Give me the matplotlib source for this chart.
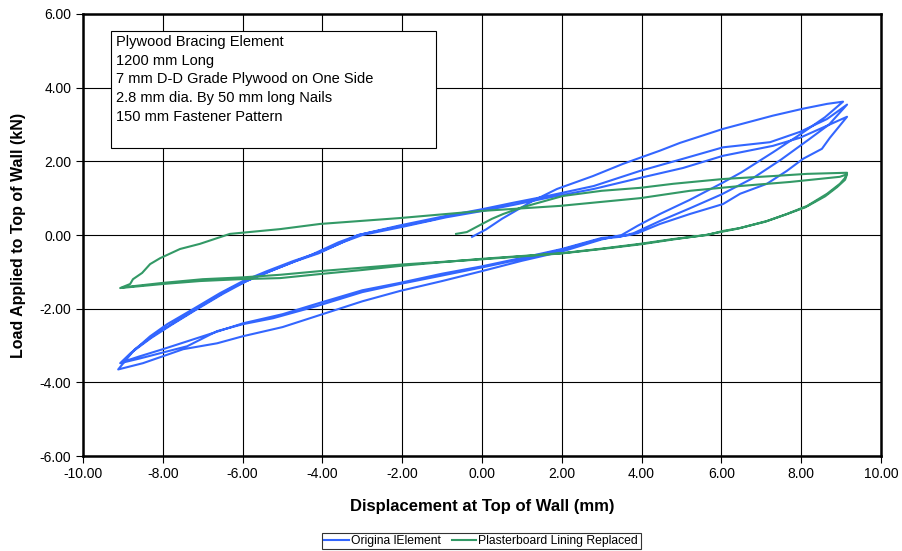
import matplotlib.pyplot as plt
from matplotlib.patches import Rectangle

plt.rcParams['font.family'] = ['Liberation Sans', 'DejaVu Sans']
plt.rcParams['axes.unicode_minus'] = False

# Original element - cyclic load path (displacement mm, load kN)
orig_x = [-0.25, 0.1, 0.5, 1.28, 1.88, 2.78, 3.53, 4.46, 4.96, 6.04, 7.29, 8.05, 8.65, 9.05,
          8.6, 8.0, 7.3, 6.5, 6.0, 5.2, 4.46, 3.9, 3.5,
          3.0, 2.0, 1.0, 0.0, -1.0, -2.06, -3.0, -4.14, -5.0, -6.0, -6.64, -7.49, -8.5, -9.12,
          -8.75, -8.32, -7.89, -7.24, -6.57, -5.99, -5.39, -4.74, -4.14, -3.6, -3.1, -2.06, -0.9,
          0.0, 0.8, 1.6, 2.8, 3.96, 5.04, 6.04, 7.22, 7.97, 8.65, 9.15,
          8.7, 8.2, 7.5, 6.8, 6.0, 5.2, 4.46, 3.8, 3.45,
          3.0, 2.0, 1.0, 0.0, -1.0, -2.06, -3.0, -4.14, -5.24, -5.99, -6.64, -7.39, -8.07, -8.57, -9.07,
          -8.8, -8.3, -7.8, -7.2, -6.5, -5.9, -5.3, -4.7, -4.1, -3.5, -3.0, -2.0, -0.9,
          0.0, 0.8, 1.6, 2.8, 3.96, 5.04, 6.04, 7.29, 7.97, 8.65, 9.15,
          8.97, 8.72, 8.52, 8.05, 7.64, 7.14, 6.47, 6.04, 5.21, 4.46, 3.9, 3.6,
          3.0, 2.0, 1.0, 0.0, -1.0, -2.06, -3.0, -4.06, -5.0, -6.0, -7.0, -8.0, -8.6, -9.02,
          -8.7, -8.2, -7.6, -7.0, -6.3, -5.7, -5.0, -4.3, -3.6, -3.1, -2.0, -1.2]
orig_y = [-0.05, 0.15, 0.44, 0.93, 1.25, 1.6, 1.93, 2.29, 2.5, 2.88, 3.24, 3.43, 3.56, 3.62,
          3.2, 2.75, 2.25, 1.7, 1.4, 0.95, 0.57, 0.25, 0.0,
          -0.12, -0.45, -0.7, -0.98, -1.25, -1.52, -1.8, -2.2, -2.5, -2.75, -2.94, -3.1, -3.48, -3.65,
          -3.16, -2.75, -2.42, -2.01, -1.58, -1.25, -0.98, -0.71, -0.49, -0.25, 0.0, 0.26, 0.52,
          0.7, 0.88, 1.05, 1.33, 1.74, 2.07, 2.38, 2.52, 2.8, 3.15, 3.54,
          3.0, 2.6, 2.05, 1.55, 1.1, 0.72, 0.38, 0.05, -0.05,
          -0.1, -0.4, -0.65, -0.88, -1.1, -1.33, -1.55, -1.93, -2.26, -2.42, -2.61, -3.02, -3.21, -3.35, -3.48,
          -3.2, -2.8, -2.45, -2.05, -1.6, -1.25, -0.98, -0.72, -0.5, -0.2, 0.0, 0.22, 0.48,
          0.65, 0.82, 1.0, 1.25, 1.55, 1.82, 2.15, 2.42, 2.64, 2.97, 3.21,
          2.97, 2.64, 2.34, 2.07, 1.74, 1.39, 1.12, 0.84, 0.57, 0.3, 0.05, -0.02,
          -0.08, -0.38, -0.62, -0.85, -1.05, -1.3, -1.5, -1.84, -2.15, -2.4, -2.75, -3.1, -3.3, -3.45,
          -3.1, -2.7, -2.3, -1.9, -1.45, -1.15, -0.85, -0.55, -0.2, 0.0, 0.25, 0.42]

# Plasterboard lining replaced
plas_x = [-0.65, -0.38, -0.05, 0.25, 0.53, 1.0, 2.03, 3.0, 3.96, 4.79, 6.04, 7.29, 8.15, 9.15,
          9.1, 8.97, 8.65, 8.15, 7.64, 7.14, 6.47, 6.04, 5.64, 4.79, 3.96, 3.0, 2.03, 1.0, -0.05,
          -1.55, -2.06, -3.0, -4.06, -5.06, -6.07, -7.07, -8.0, -9.07,
          -8.82, -8.75, -8.52, -8.32, -8.07, -7.57, -7.07, -6.32, -5.06, -4.06, -2.06, -0.05,
          1.95, 3.96, 5.21, 6.47, 7.72, 8.97, 9.15,
          9.1, 8.9, 8.6, 8.1, 7.6, 7.1, 6.4, 5.6, 4.8, 4.0, 3.0, 2.0, 1.0, 0.0,
          -2.0, -4.06, -5.06, -6.0, -7.0, -8.0, -9.0]
plas_y = [0.03, 0.08, 0.27, 0.44, 0.57, 0.75, 1.06, 1.2, 1.28, 1.39, 1.52, 1.6, 1.66, 1.69,
          1.55, 1.39, 1.12, 0.79, 0.57, 0.38, 0.19, 0.11, 0.0, -0.11, -0.24, -0.37, -0.49, -0.57, -0.65,
          -0.79, -0.84, -0.95, -1.06, -1.17, -1.2, -1.25, -1.33, -1.44,
          -1.33, -1.2, -1.03, -0.79, -0.63, -0.38, -0.24, 0.03, 0.16, 0.3, 0.46, 0.65,
          0.79, 1.0, 1.2, 1.33, 1.44, 1.58, 1.65,
          1.5, 1.3, 1.05, 0.75, 0.55, 0.36, 0.17, 0.0, -0.12, -0.25, -0.38, -0.5, -0.58, -0.66,
          -0.8, -0.98, -1.08, -1.15, -1.2, -1.3, -1.42]

box_lines = ["Plywood Bracing Element",
             "1200 mm Long",
             "7 mm D-D Grade Plywood on One Side",
             "2.8 mm dia. By 50 mm long Nails",
             "150 mm Fastener Pattern"]

fig = plt.figure(figsize=(9.03, 5.51), dpi=100)
ax = fig.add_axes([0.092, 0.1724, 0.8836, 0.8022])

ax.plot(orig_x, orig_y, color='#3366FF', lw=1.5, label='Origina lElement')
ax.plot(plas_x, plas_y, color='#339966', lw=1.5, label='Plasterboard Lining Replaced')

ax.set_xlim(-10, 10)
ax.set_ylim(-6, 6)
ax.set_xticks(range(-10, 11, 2))
ax.set_yticks(range(-6, 7, 2))
ax.xaxis.set_major_formatter('{x:.2f}')
ax.yaxis.set_major_formatter('{x:.2f}')
ax.tick_params(labelsize=10, length=5, width=0.8, direction='out')
ax.tick_params(axis='x', pad=3)
ax.grid(True, color='black', lw=0.8)
for s in ax.spines.values():
    s.set_linewidth(1.8)
    s.set_color('black')

ax.set_xlabel('Displacement at Top of Wall (mm)', fontsize=12, fontweight='bold', labelpad=13)
ax.set_ylabel('Load Applied to Top of Wall (kN)', fontsize=11.5, fontweight='bold', labelpad=10)

# annotation box
ax.add_patch(Rectangle((0.035, 0.697), 0.407, 0.265, transform=ax.transAxes,
                       facecolor='white', edgecolor='black', lw=0.8, zorder=5))
ax.text(0.041, 0.952, "\n".join(box_lines), transform=ax.transAxes, fontsize=10.5,
        va='top', ha='left', linespacing=1.42, zorder=6)

leg = fig.legend(loc='center', bbox_to_anchor=(0.533, 0.018), ncol=2, fontsize=8.7,
                 frameon=True, fancybox=False, edgecolor='black', handlelength=2.0,
                 handletextpad=0.2, columnspacing=0.9, borderpad=0.2)
leg.get_frame().set_linewidth(0.8)

fig.savefig('out.png', dpi=100)
